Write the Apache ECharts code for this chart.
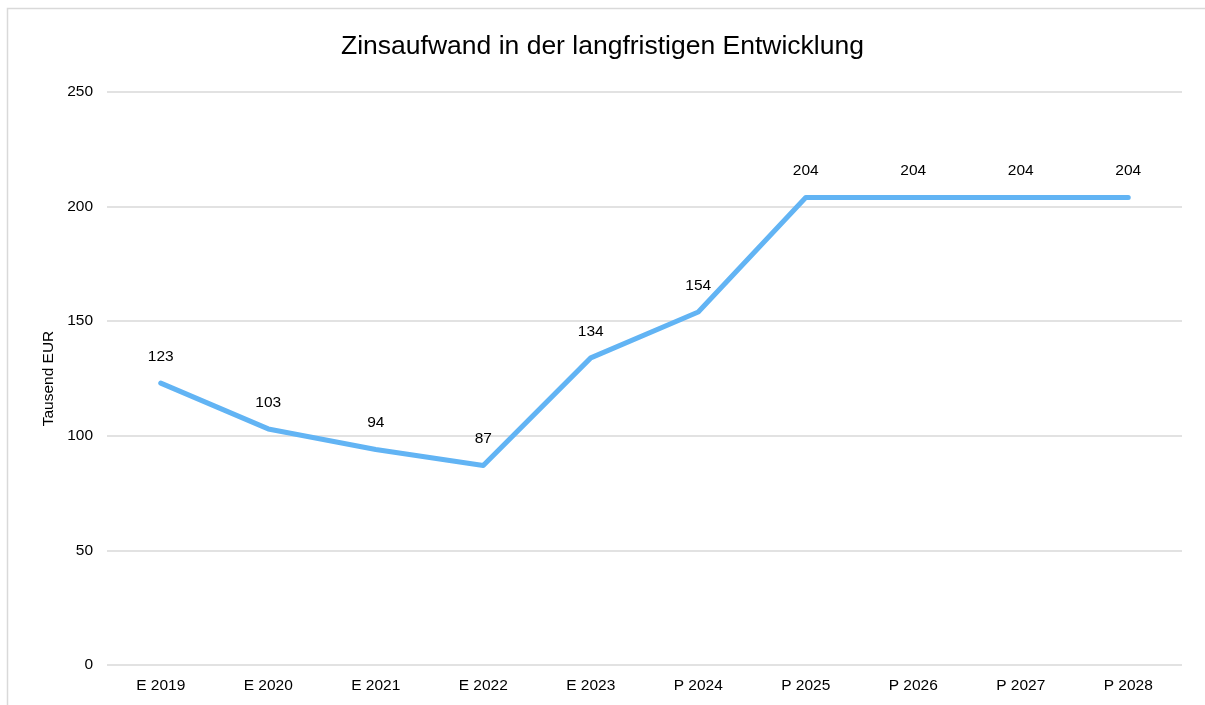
<!DOCTYPE html>
<html>
<head>
<meta charset="utf-8">
<script src="https://cdn.jsdelivr.net/npm/echarts@6/dist/echarts.min.js"></script>
<style>
  html, body { margin: 0; padding: 0; background: #fff; }
  #chart { width: 1205px; height: 705px; }
</style>
</head>
<body>
<div id="chart"></div>
<script>
// Kategorien und Werte
const years = ['E 2019', 'E 2020', 'E 2021', 'E 2022', 'E 2023', 'P 2024', 'P 2025', 'P 2026', 'P 2027', 'P 2028'];
const zinsaufwand = [123, 103, 94, 87, 134, 154, 204, 204, 204, 204];

let myChart = echarts.init(document.getElementById('chart'));
let option = {
  animation: false,
  textStyle: { fontFamily: 'Liberation Sans, Arial, sans-serif' },
  title: {
    text: 'Zinsaufwand in der langfristigen Entwicklung',
    left: 'center',
    top: 28,
    textStyle: { fontSize: 26.5, fontWeight: 'normal', color: '#000' }
  },
  graphic: [{
    type: 'rect',
    shape: { x: 7.5, y: 8.5, width: 1210, height: 710 },
    style: { fill: 'none', stroke: '#d9d9d9', lineWidth: 1.5 },
    silent: true
  }],
  grid: { left: 107, right: 23, top: 92, bottom: 40 },
  xAxis: {
    type: 'category',
    data: years,
    axisLine: { show: false },
    axisTick: { show: false },
    axisLabel: { color: '#000', fontSize: 15.5, margin: 13 }
  },
  yAxis: {
    type: 'value',
    min: 0,
    max: 250,
    interval: 50,
    name: 'Tausend EUR',
    nameLocation: 'middle',
    nameGap: 48,
    nameRotate: 90,
    nameTextStyle: { color: '#000', fontSize: 15.5 },
    axisLine: { show: false },
    axisTick: { show: false },
    axisLabel: { color: '#000', fontSize: 15.5, margin: 14 },
    splitLine: { lineStyle: { color: '#d9d9d9', width: 1.5 } }
  },
  series: [{
    type: 'line',
    data: zinsaufwand,
    symbol: 'circle',
    symbolSize: 1,
    lineStyle: { color: '#62b4f4', width: 5, cap: 'round', join: 'round' },
    itemStyle: { color: '#62b4f4' },
    label: { show: true, position: 'top', distance: 18, color: '#000', fontSize: 15.5 }
  }]
};
myChart.setOption(option);
</script>
</body>
</html>
